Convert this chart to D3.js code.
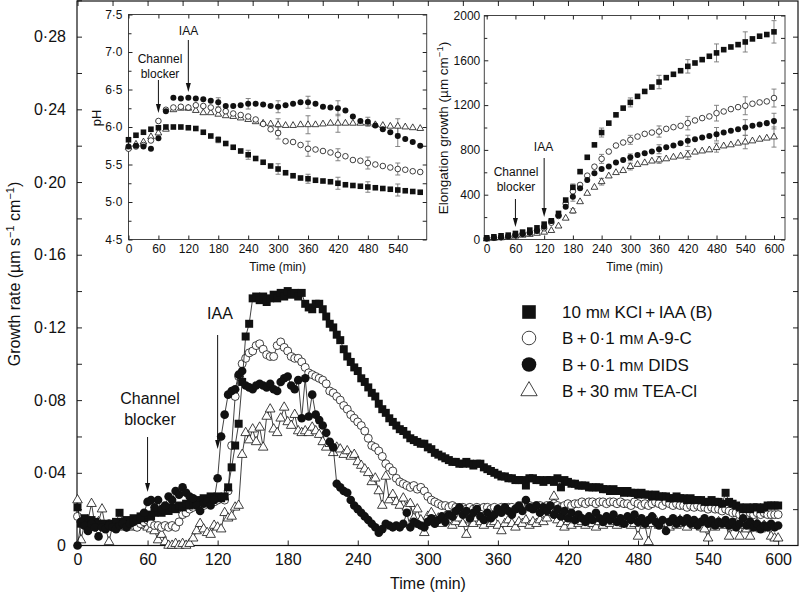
<!DOCTYPE html>
<html>
<head>
<meta charset="utf-8">
<script src="https://cdn.jsdelivr.net/npm/d3@7"></script>
<style>
  body { margin: 0; background: #fff; }
  svg { display: block; font-family: "Liberation Sans", Arial, sans-serif; }
</style>
</head>
<body>
<svg id="chart" width="800" height="593"></svg>
<script>
// Growth rate (um s-1 cm-1), one reading every STEP minutes from 0 to 600
const STEP = 3

const kclIaa = [
  .021,.012,.015,.012,.014,.013,.012,.011,.012,.011,
  .012,.013,.018,.013,.014,.013,.015,.014,.016,.015,
  .017,.016,.018,.019,.018,.020,.019,.021,.020,.022,
  .021,.023,.022,.024,.025,.024,.026,.025,.027,.026,
  .027,.026,.027,.032,.043,.055,.067,.090,.115,.122,
  .136,.137,.135,.137,.134,.136,.138,.136,.139,.137,
  .140,.138,.139,.137,.139,.133,.131,.130,.133,.133,
  .130,.126,.122,.120,.116,.113,.108,.104,.101,.098,
  .096,.092,.090,.087,.084,.082,.078,.075,.073,.070,
  .068,.066,.064,.063,.061,.059,.058,.057,.056,.056,
  .054,.053,.051,.050,.049,.048,.047,.046,.046,.045,
  .045,.046,.045,.044,.045,.045,.043,.042,.041,.040,
  .039,.038,.038,.037,.037,.036,.036,.036,.033,.037,
  .037,.036,.036,.035,.036,.036,.035,.037,.032,.036,
  .035,.034,.034,.033,.033,.033,.032,.032,.032,.032,
  .031,.031,.030,.031,.030,.030,.029,.030,.029,.029,
  .028,.029,.028,.028,.027,.028,.027,.027,.027,.026,
  .026,.027,.026,.026,.025,.026,.025,.025,.025,.024,
  .024,.025,.024,.024,.023,.029,.024,.023,.022,.021,
  .020,.021,.020,.021,.021,.020,.021,.022,.022,.022,
  .022
]

const a9c = [
  .016,.013,.011,.014,.012,.010,.012,.011,.010,.012,
  .011,.010,.012,.011,.010,.012,.011,.010,.012,.013,
  .014,.012,.011,.011,.010,.011,.010,.011,.010,.013,
  .017,.018,.020,.021,.022,.023,.022,.024,.025,.024,
  .025,.026,.025,.030,.055,.082,.093,.100,.103,.106,
  .107,.110,.111,.108,.105,.104,.104,.110,.112,.109,
  .107,.104,.103,.103,.101,.098,.095,.094,.093,.092,
  .091,.089,.085,.084,.082,.080,.077,.075,.072,.070,
  .068,.066,.063,.059,.055,.054,.052,.049,.045,.043,
  .041,.037,.035,.034,.033,.032,.033,.031,.032,.030,
  .027,.025,.024,.023,.022,.022,.021,.022,.021,.020,
  .021,.020,.021,.020,.021,.020,.021,.021,.020,.021,
  .020,.021,.020,.021,.021,.020,.021,.022,.023,.022,
  .021,.022,.022,.021,.022,.022,.023,.022,.021,.022,
  .023,.022,.023,.023,.024,.023,.024,.024,.023,.024,
  .024,.023,.024,.024,.023,.024,.023,.023,.022,.024,
  .023,.022,.023,.022,.023,.024,.023,.022,.024,.023,
  .022,.023,.022,.022,.021,.022,.021,.022,.021,.021,
  .020,.021,.020,.020,.019,.020,.019,.018,.018,.017,
  .018,.017,.018,.017,.018,.017,.018,.017,.017,.017,
  .017
]

const dids = [
  .000,.013,.011,.008,.012,.010,.005,.010,.009,.011,
  .010,.009,.011,.012,.010,.012,.013,.014,.015,.018,
  .024,.025,.021,.025,.020,.022,.027,.025,.030,.028,
  .032,.029,.027,.026,.022,.019,.023,.024,.022,.025,
  .037,.060,.072,.083,.085,.086,.094,.096,.088,.087,
  .086,.088,.089,.088,.087,.089,.086,.085,.090,.092,
  .093,.088,.086,.091,.070,.092,.071,.083,.072,.069,
  .066,.062,.057,.054,.034,.032,.030,.029,.025,.022,
  .020,.018,.016,.014,.012,.010,.007,.009,.012,.011,
  .010,.011,.010,.012,.018,.010,.013,.012,.011,.010,
  .013,.015,.012,.014,.016,.013,.017,.016,.019,.021,
  .017,.019,.015,.018,.020,.016,.014,.018,.015,.017,
  .020,.018,.021,.019,.017,.020,.022,.019,.025,.021,
  .020,.022,.018,.021,.019,.022,.017,.020,.016,.019,
  .015,.018,.014,.017,.015,.013,.016,.014,.018,.015,
  .013,.016,.014,.017,.013,.015,.012,.016,.014,.017,
  .013,.015,.012,.014,.016,.013,.011,.014,.008,.013,
  .015,.012,.014,.013,.015,.012,.014,.011,.013,.015,
  .012,.014,.011,.013,.012,.014,.011,.013,.010,.012,
  .015,.011,.013,.010,.012,.009,.011,.010,.012,.010,
  .011
]

const teaCl = [
  .025,.003,.012,.014,.023,.011,.013,.020,.010,.002,
  .011,.012,.010,.013,.011,.012,.010,.012,.011,.012,
  .010,.009,.008,.003,.006,.002,.000,.000,.001,.000,
  .001,.000,.001,.004,.008,.012,.009,.007,.006,.011,
  .010,.009,.018,.015,.016,.021,.022,.050,.062,.058,
  .064,.057,.065,.054,.071,.075,.064,.062,.070,.076,
  .068,.066,.072,.063,.062,.063,.062,.065,.063,.061,
  .057,.054,.056,.051,.054,.053,.050,.052,.049,.050,
  .046,.044,.042,.040,.035,.037,.030,.022,.038,.025,
  .028,.024,.022,.026,.021,.023,.015,.020,.014,.007,
  .016,.018,.013,.015,.012,.016,.014,.011,.013,.015,
  .012,.006,.014,.012,.015,.013,.011,.014,.012,.013,
  .011,.008,.012,.014,.012,.010,.013,.012,.014,.011,
  .013,.012,.014,.013,.015,.018,.027,.014,.012,.010,
  .013,.011,.014,.012,.013,.011,.014,.012,.010,.013,
  .011,.014,.012,.013,.011,.014,.012,.013,.011,.012,
  .005,.013,.011,.002,.012,.014,.011,.013,.012,.010,
  .013,.011,.014,.012,.010,.013,.011,.012,.010,.009,
  .004,.012,.010,.013,.011,.012,.005,.010,.012,.005,
  .011,.009,.005,.010,.012,.009,.011,.010,.005,.004,
  .004
]

// Inset a: apoplastic pH, one reading every 15 min (0-585)
const PH_STEP = 15
const phKcl = [5.83,5.89,5.93,5.97,5.99,6.00,6.00,6.00,5.99,5.98,
  5.93,5.88,5.83,5.78,5.73,5.68,5.63,5.58,5.53,5.48,
  5.44,5.39,5.35,5.32,5.31,5.29,5.28,5.27,5.25,5.23,
  5.22,5.21,5.20,5.19,5.18,5.17,5.16,5.15,5.14,5.13]
const phA9c = [5.71,5.74,5.76,5.82,6.08,6.23,6.26,6.27,6.26,6.29,
  6.28,6.26,6.23,6.21,6.18,6.16,6.14,6.10,6.04,5.97,
  5.92,5.81,5.80,5.76,5.71,5.70,5.68,5.66,5.63,5.61,
  5.56,5.55,5.52,5.50,5.48,5.46,5.44,5.43,5.41,5.40]
const phDids = [5.74,5.75,5.74,5.71,5.85,6.21,6.39,6.38,6.39,6.38,
  6.37,6.35,6.33,6.28,6.28,6.29,6.31,6.31,6.30,6.28,
  6.27,6.29,6.31,6.33,6.33,6.31,6.27,6.26,6.25,6.22,
  6.14,6.08,6.07,6.02,5.97,5.93,5.88,5.84,5.80,5.75]
const phTea = [5.73,5.77,5.80,5.87,5.92,5.97,6.23,6.25,6.25,6.22,
  6.19,6.19,6.17,6.15,6.14,6.12,6.10,6.07,6.05,6.04,
  6.03,6.02,6.02,6.03,6.03,6.03,6.04,6.05,6.05,6.05,
  6.05,6.05,6.05,6.03,6.02,6.01,6.01,6.00,5.99,5.98]
const phErrTimes = [180, 240, 300, 360, 420, 480, 540]
const phKclErr = [0.04, 0.06, 0.07, 0.06, 0.08, 0.07, 0.08]
const phA9cErr = [0, 0, 0.08, 0.10, 0.08, 0.08, 0.08]
const phDidsErr = [0.06, 0.07, 0.08, 0.08, 0.10, 0.06, 0.14]
const phTeaErr = [0, 0, 0.08, 0.12, 0.12, 0, 0.10]

// Inset b: elongation growth (um cm-1), every 15 min (0-600)
const EL_STEP = 15
const elKcl = [15,24,33,39,54,66,84,104,137,167,
  233,352,466,606,734,845,955,1039,1113,1173,
  1224,1278,1322,1361,1406,1445,1475,1507,1546,1576,
  1606,1636,1666,1695,1719,1740,1764,1791,1815,1830,1854]
const elA9c = [10,15,20,28,40,50,62,80,100,150,
  210,320,430,487,570,650,720,785,839,866,
  890,919,943,955,964,988,1003,1015,1039,1063,
  1084,1099,1128,1143,1164,1182,1194,1212,1224,1233,1263]
const elDids = [10,15,20,28,40,50,60,75,113,165,
  215,293,382,457,531,591,630,651,687,710,
  734,755,770,785,806,824,839,860,881,896,
  910,925,940,955,970,985,1000,1015,1027,1039,1057]
const elTea = [5,10,15,20,30,38,45,55,65,80,
  120,190,255,337,412,466,516,567,597,615,
  651,670,685,700,710,720,735,745,755,780,
  790,800,820,835,845,860,870,880,895,905,915]
const elErrTimes = [180, 240, 300, 360, 420, 480, 540, 600]
const elKclErr = [30, 40, 40, 60, 60, 80, 90, 100]
const elA9cErr = [0, 40, 40, 50, 60, 70, 80, 80]
const elDidsErr = [40, 0, 30, 40, 50, 60, 70, 70]
const elTeaErr = [20, 30, 30, 30, 40, 40, 60, 90]

const xTicks = [0, 60, 120, 180, 240, 300, 360, 420, 480, 540, 600]
const yTicks = [0, 0.04, 0.08, 0.12, 0.16, 0.20, 0.24, 0.28]

const FONT = '"Liberation Sans", Arial, sans-serif'
const svg = d3.select('#chart')

const dotFmt = f => d => d === 0 ? '0' : d3.format(f)(d).replace('.', '\u00b7')

// Marker drawing shared by main plot, insets and legend
function marker(g, kind, s) {
  // s: scale factor for marker size
  if (kind === 'square') {
    return g.append('path').attr('d', d3.symbol(d3.symbolSquare, 64 * s * s)())
      .attr('fill', '#111')
  }
  if (kind === 'dot') {
    return g.append('circle').attr('r', 4.3 * s).attr('fill', '#111')
  }
  if (kind === 'open') {
    return g.append('circle').attr('r', 4 * s).attr('fill', '#fff')
      .attr('stroke', '#111').attr('stroke-width', 0.8)
  }
  return g.append('path').attr('d', d3.symbol(d3.symbolTriangle, 40 * s * s)())
    .attr('fill', '#fff').attr('stroke', '#111').attr('stroke-width', 0.8)
}

function arrow(g, x, y1, y2) {
  g.append('line').attr('x1', x).attr('x2', x).attr('y1', y1).attr('y2', y2 - 6)
    .attr('stroke', '#111').attr('stroke-width', 1)
  g.append('path').attr('d', `M${x - 2.5},${y2 - 9}L${x + 2.5},${y2 - 9}L${x},${y2}Z`)
    .attr('fill', '#111')
}

function styleAxis(g, size) {
  g.select('.domain').remove()
  g.attr('font-size', size).attr('font-family', FONT)
  g.selectAll('text').attr('fill', '#111')
  g.selectAll('line').attr('stroke', '#222')
}

// ---------------- Main plot ----------------
const x = d3.scaleLinear().domain([0, 617]).range([77.5, 798])
const y = d3.scaleLinear().domain([0, 0.30]).range([545.5, 0.3])

const main = svg.append('g')

main.append('g').attr('transform', `translate(0,${y(0)})`)
  .call(d3.axisBottom(x).tickValues(xTicks).tickSizeInner(-5).tickSizeOuter(0).tickPadding(8))
  .call(g => styleAxis(g, 16))
main.append('g').attr('transform', `translate(0,1)`)
  .call(d3.axisTop(x).tickValues(d3.range(0, 601, 30)).tickSizeInner(-5).tickSizeOuter(0).tickFormat(''))
  .call(g => styleAxis(g, 16))
main.append('g').attr('transform', `translate(77,0)`)
  .call(d3.axisLeft(y).tickValues(yTicks).tickSizeInner(-5).tickSizeOuter(0).tickPadding(11)
    .tickFormat(dotFmt('.2f')))
  .call(g => styleAxis(g, 16))
main.append('g').attr('transform', `translate(77,0)`)
  .call(d3.axisLeft(y).tickValues(yTicks.map(v => v + 0.02)).tickSizeInner(-5).tickSizeOuter(0).tickFormat(''))
  .call(g => styleAxis(g, 16))
main.append('g').attr('transform', `translate(798,0)`)
  .call(d3.axisRight(y).tickValues(d3.range(1, 15).map(i => i * 0.02)).tickSizeInner(-5).tickSizeOuter(0).tickFormat(''))
  .call(g => styleAxis(g, 16))

main.append('rect').attr('x', 77).attr('y', 1).attr('width', 721).attr('height', y(0) - 1)
  .attr('fill', 'none').attr('stroke', '#111').attr('stroke-width', 1.2)

main.append('text').attr('x', 428).attr('y', 589).attr('text-anchor', 'middle')
  .attr('font-size', 16).attr('fill', '#111').text('Time (min)')

const yTitle = main.append('text').attr('transform', 'translate(14,274) rotate(-90)')
  .attr('text-anchor', 'middle').attr('dy', '0.35em').attr('font-size', 16).attr('fill', '#111')
yTitle.append('tspan').text('Growth rate (\u00b5m s')
yTitle.append('tspan').attr('font-size', 11).attr('dy', -6).text('\u22121')
yTitle.append('tspan').attr('dy', 6).text(' cm')
yTitle.append('tspan').attr('font-size', 11).attr('dy', -6).text('\u22121')
yTitle.append('tspan').attr('dy', 6).text(')')

// Series: drawn back to front
const series = [
  { values: teaCl, kind: 'tri' },
  { values: a9c, kind: 'open' },
  { values: kclIaa, kind: 'square' },
  { values: dids, kind: 'dot' }
]
const line = d3.line().x((d, i) => x(i * STEP)).y(d => y(d))

series.forEach(s => {
  const g = main.append('g')
  g.append('path').datum(s.values).attr('d', line)
    .attr('fill', 'none').attr('stroke', '#111').attr('stroke-width', 0.8)
  s.values.forEach((v, i) => {
    const m = g.append('g').attr('transform', `translate(${x(i * STEP)},${y(v)})`)
    marker(m, s.kind, 1)
  })
})

// Annotations
const ann = main.append('g').attr('font-size', 16).attr('fill', '#111').attr('text-anchor', 'middle')
ann.append('text').attr('x', 150).attr('y', 404).text('Channel')
ann.append('text').attr('x', 150).attr('y', 425).text('blocker')
arrow(ann, x(60), 437, 492)
ann.append('text').attr('x', 220).attr('y', 319).text('IAA')
arrow(ann, x(120), 335, 449)

// Legend
const legendItems = [
  { kind: 'square', parts: ['10 m', 'M', ' KCl\u2009+\u2009IAA (B)'] },
  { kind: 'open', parts: ['B\u2009+\u20090\u00b71 m', 'M', ' A-9-C'] },
  { kind: 'dot', parts: ['B\u2009+\u20090\u00b71 m', 'M', ' DIDS'] },
  { kind: 'tri', parts: ['B\u2009+\u200930 m', 'M', ' TEA-Cl'] }
]
const legendY = [312, 338, 364.5, 391]
legendItems.forEach((it, i) => {
  const g = main.append('g').attr('transform', `translate(529,${legendY[i]})`)
  marker(g, it.kind, 1.7)
  const t = g.append('text').attr('x', 33).attr('dy', '0.36em').attr('font-size', 17).attr('fill', '#111')
  t.append('tspan').text(it.parts[0])
  t.append('tspan').attr('font-size', 12).text(it.parts[1])
  t.append('tspan').text(it.parts[2])
})

// ---------------- Insets ----------------
function inset(opts) {
  const g = svg.append('g')
  const ix = d3.scaleLinear().domain(opts.xDomain).range(opts.xRange)
  const iy = d3.scaleLinear().domain(opts.yDomain).range(opts.yRange)
  const [x0, x1] = opts.xRange
  const [y0, y1] = opts.yRange

  g.append('rect').attr('x', x0).attr('y', y1).attr('width', x1 - x0).attr('height', y0 - y1)
    .attr('fill', '#fff').attr('stroke', '#444').attr('stroke-width', 1)

  g.append('g').attr('transform', `translate(0,${y0})`)
    .call(d3.axisBottom(ix).tickValues(opts.xTicks).tickSizeInner(-4).tickSizeOuter(0).tickPadding(5))
    .call(a => styleAxis(a, 12))
  g.append('g').attr('transform', `translate(0,${y1})`)
    .call(d3.axisTop(ix).tickValues(opts.xTicks).tickSizeInner(-4).tickSizeOuter(0).tickFormat(''))
    .call(a => styleAxis(a, 12))
  g.append('g').attr('transform', `translate(${x0},0)`)
    .call(d3.axisLeft(iy).tickValues(opts.yTicks).tickSizeInner(-4).tickSizeOuter(0).tickPadding(opts.yPad)
      .tickFormat(opts.yFormat))
    .call(a => styleAxis(a, 12))
  g.append('g').attr('transform', `translate(${x0},0)`)
    .call(d3.axisLeft(iy).tickValues(opts.yMinor).tickSizeInner(-3).tickSizeOuter(0).tickFormat(''))
    .call(a => styleAxis(a, 12))
  g.append('g').attr('transform', `translate(${x1},0)`)
    .call(d3.axisRight(iy).tickValues(opts.yTicks.concat(opts.yMinor)).tickSizeInner(-4).tickSizeOuter(0).tickFormat(''))
    .call(a => styleAxis(a, 12))

  g.append('text').attr('x', (x0 + x1) / 2).attr('y', 271).attr('text-anchor', 'middle')
    .attr('font-size', 12).attr('fill', '#111').text('Time (min)')

  // Error bars first, markers on top
  opts.series.forEach(s => {
    opts.errTimes.forEach((t, k) => {
      const e = s.err[k]
      if (!e) return
      const v = s.values[t / opts.step]
      const cx = ix(t)
      g.append('path')
        .attr('d', `M${cx},${iy(v - e)}V${iy(v + e)}M${cx - 2.5},${iy(v - e)}H${cx + 2.5}M${cx - 2.5},${iy(v + e)}H${cx + 2.5}`)
        .attr('stroke', '#777').attr('stroke-width', 0.9).attr('fill', 'none')
    })
  })
  opts.series.forEach(s => {
    s.values.forEach((v, i) => {
      const m = g.append('g').attr('transform', `translate(${ix(i * opts.step)},${iy(v)})`)
      marker(m, s.kind, 0.7)
    })
  })
  return { g, ix, iy }
}

const ph = inset({
  xDomain: [0, 598], xRange: [128.5, 426.7],
  yDomain: [4.5, 7.5], yRange: [239.5, 14.5],
  xTicks: [0, 60, 120, 180, 240, 300, 360, 420, 480, 540],
  yTicks: [4.5, 5.0, 5.5, 6.0, 6.5, 7.0, 7.5],
  yMinor: [4.75, 5.25, 5.75, 6.25, 6.75, 7.25],
  yPad: 6, yFormat: dotFmt('.1f'),
  step: PH_STEP, errTimes: phErrTimes,
  series: [
    { values: phTea, err: phTeaErr, kind: 'tri' },
    { values: phA9c, err: phA9cErr, kind: 'open' },
    { values: phKcl, err: phKclErr, kind: 'square' },
    { values: phDids, err: phDidsErr, kind: 'dot' }
  ]
})
ph.g.append('text').attr('transform', 'translate(96,118) rotate(-90)').attr('dy', '0.35em')
  .attr('text-anchor', 'middle').attr('font-size', 13).attr('fill', '#111').text('pH')
const phAnn = ph.g.append('g').attr('font-size', 12).attr('fill', '#111').attr('text-anchor', 'middle')
phAnn.append('text').attr('x', 188.5).attr('y', 34.5).text('IAA')
arrow(phAnn, ph.ix(120), 40, 92)
phAnn.append('text').attr('x', 160).attr('y', 62.5).text('Channel')
phAnn.append('text').attr('x', 160).attr('y', 77.5).text('blocker')
arrow(phAnn, ph.ix(60), 80, 113)

const el = inset({
  xDomain: [-5, 623], xRange: [484.3, 785],
  yDomain: [0, 2000], yRange: [239.5, 15.5],
  xTicks: [0, 60, 120, 180, 240, 300, 360, 420, 480, 540, 600],
  yTicks: [0, 400, 800, 1200, 1600, 2000],
  yMinor: [200, 600, 1000, 1400, 1800],
  yPad: 4, yFormat: d3.format('d'),
  step: EL_STEP, errTimes: elErrTimes,
  series: [
    { values: elTea, err: elTeaErr, kind: 'tri' },
    { values: elA9c, err: elA9cErr, kind: 'open' },
    { values: elDids, err: elDidsErr, kind: 'dot' },
    { values: elKcl, err: elKclErr, kind: 'square' }
  ]
})
const elTitle = el.g.append('text').attr('transform', 'translate(443,128) rotate(-90)').attr('dy', '0.35em')
  .attr('text-anchor', 'middle').attr('font-size', 13.5).attr('fill', '#111')
elTitle.append('tspan').text('Elongation growth (\u00b5m cm')
elTitle.append('tspan').attr('font-size', 9.5).attr('dy', -5).text('\u22121')
elTitle.append('tspan').attr('dy', 5).text(')')
const elAnn = el.g.append('g').attr('font-size', 12).attr('fill', '#111').attr('text-anchor', 'middle')
elAnn.append('text').attr('x', 543.5).attr('y', 151).text('IAA')
arrow(elAnn, el.ix(120), 158, 217)
elAnn.append('text').attr('x', 516).attr('y', 176).text('Channel')
elAnn.append('text').attr('x', 516).attr('y', 191).text('blocker')
arrow(elAnn, el.ix(60), 199, 227)
</script>
</body>
</html>
